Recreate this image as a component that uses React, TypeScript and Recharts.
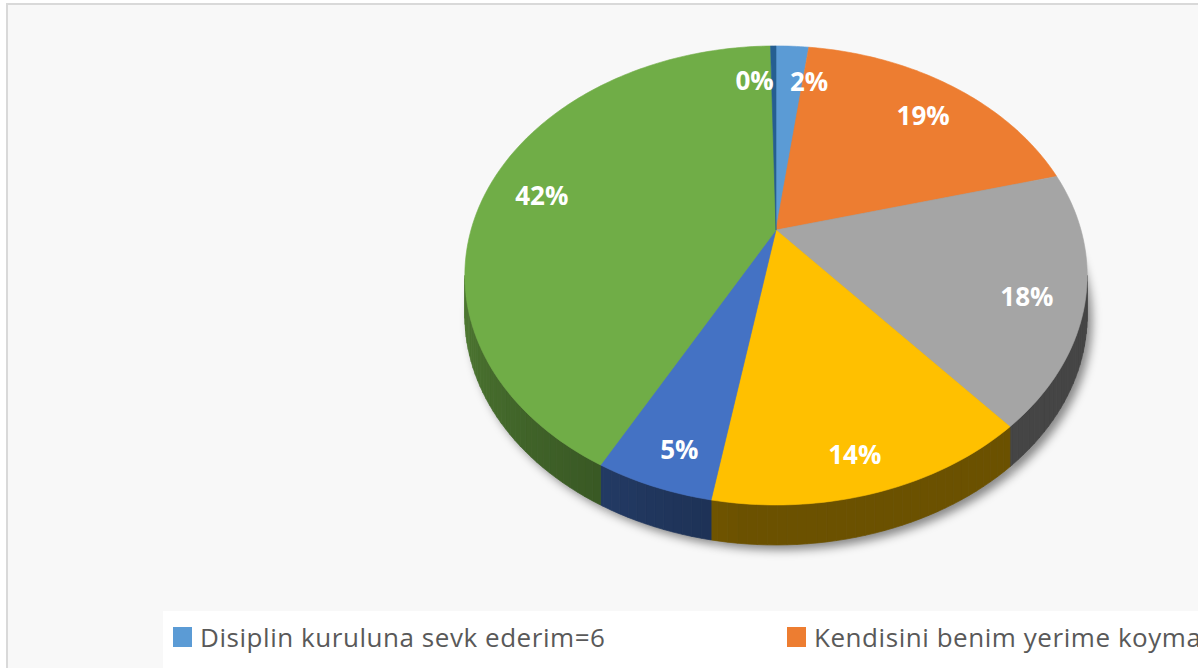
import React from 'react';
import { PieChart, Pie, Cell, Legend } from 'recharts';

const categories = [
  'Disiplin kuruluna sevk ederim=6',
  'Kendisini benim yerime koymasını isterim',
  'Seçenek 3',
  'Seçenek 4',
  'Seçenek 5',
  'Seçenek 6',
  'Seçenek 7',
];
const counts = [6, 55, 52, 41, 15, 122, 1];
const colors = ['#5B9BD5', '#ED7D31', '#A5A5A5', '#FFC000', '#4472C4', '#70AD47', '#255E91'];

const data = categories.map((name, i) => ({ name, value: counts[i] }));

// perspective parameters
const K = 0.198; // perspective strength
const BR = 0.723; // vertical/horizontal ratio
const T = 40; // thickness in px
const FRONT_HI = -11.4;
const FRONT_LO = -168.6;

function proj(cx: number, cy: number, R: number, aDeg: number, f: number): [number, number] {
  const a = (aDeg * Math.PI) / 180;
  const X = f * Math.cos(a);
  const Z = f * Math.sin(a);
  const d = 1 + K * Z;
  return [cx + (R * X) / d, cy - (R * BR * Z) / d];
}

function arcPoints(cx: number, cy: number, R: number, a1: number, a2: number, dy = 0): [number, number][] {
  const pts: [number, number][] = [];
  const n = Math.max(2, Math.ceil(Math.abs(a1 - a2) / 1));
  for (let i = 0; i <= n; i++) {
    const a = a1 + ((a2 - a1) * i) / n;
    const p = proj(cx, cy, R, a, 1);
    pts.push([p[0], p[1] + dy]);
  }
  return pts;
}

function darken(hex: string, f: number) {
  const n = parseInt(hex.slice(1), 16);
  const r = Math.round(((n >> 16) & 255) * f);
  const g = Math.round(((n >> 8) & 255) * f);
  const b = Math.round((n & 255) * f);
  return `rgb(${r},${g},${b})`;
}

const ShadowShape = (p: any) => {
  const { cx, cy, outerRadius, startAngle, endAngle } = p;
  const pts = arcPoints(cx, cy, outerRadius, startAngle, endAngle, T + 5);
  const d = `M${cx + 5},${cy + T + 5} L` + pts.map((q) => `${q[0] + 5},${q[1]}`).join(' L') + ' Z';
  return (
    <g>
      <defs>
        <filter id="pieShadowBlur" x="-20%" y="-20%" width="140%" height="140%">
          <feGaussianBlur stdDeviation="5" />
        </filter>
      </defs>
      <path d={d} fill="#000" fillOpacity={0.45} filter="url(#pieShadowBlur)" />
    </g>
  );
};

const WallShape = (p: any) => {
  const { cx, cy, outerRadius, startAngle, endAngle, fill } = p;
  const hi = Math.min(Math.max(startAngle, endAngle), FRONT_HI);
  const lo = Math.max(Math.min(startAngle, endAngle), FRONT_LO);
  if (hi <= lo) return <g />;
  const quads: React.ReactNode[] = [];
  const step = 1.5;
  let k = 0;
  for (let a = hi; a > lo; a -= step) {
    const b = Math.max(a - step, lo);
    const p1 = proj(cx, cy, outerRadius, a, 1);
    const p2 = proj(cx, cy, outerRadius, b, 1);
    const theta = 90 - (a + b) / 2;
    const factor = theta < 185 ? 0.42 : 0.42 + ((theta - 185) / 73) * 0.28;
    const c = darken(fill, factor);
    const d = `M${p1[0]},${p1[1]} L${p2[0]},${p2[1]} L${p2[0]},${p2[1] + T} L${p1[0]},${p1[1] + T} Z`;
    quads.push(<path key={k++} d={d} fill={c} stroke={c} strokeWidth={0.7} />);
  }
  return <g>{quads}</g>;
};

const TopShape = (p: any) => {
  const { cx, cy, outerRadius, startAngle, endAngle, fill } = p;
  const pts = arcPoints(cx, cy, outerRadius, startAngle, endAngle);
  const d = `M${cx},${cy} L` + pts.map((q) => `${q[0]},${q[1]}`).join(' L') + ' Z';
  return <path d={d} fill={fill} stroke={fill} strokeWidth={0.6} />;
};

const renderLabel = (p: any) => {
  const { cx, cy, outerRadius, midAngle, percent } = p;
  const f = 0.82;
  const a = (midAngle * Math.PI) / 180;
  const Z = Math.sin(a);
  const X = Math.cos(a);
  const pt = proj(cx, cy, outerRadius, midAngle, f);
  const y = pt[1] + 6 + 12 * Math.max(0, -Z);
  let anchor: 'middle' | 'start' | 'end' = 'middle';
  if (percent < 0.03) anchor = X < 0 ? 'end' : 'start';
  return (
    <text
      x={pt[0]}
      y={y}
      fill="#fff"
      textAnchor={anchor}
      dominantBaseline="central"
      style={{ fontFamily: '"Open Sans", sans-serif', fontWeight: 700, fontSize: 26 }}
    >
      {`${Math.round(percent * 100)}%`}
    </text>
  );
};

const LegendContent = () => (
  <div
    style={{
      position: 'absolute',
      left: 163,
      top: 611,
      width: 1200,
      height: 200,
      background: '#ffffff',
    }}
  >
    {categories.map((c, i) => {
      const col = i % 2;
      const row = Math.floor(i / 2);
      return (
        <div
          key={c}
          style={{
            position: 'absolute',
            left: 10 + col * 614,
            top: 10 + row * 70,
            display: 'flex',
            alignItems: 'center',
            whiteSpace: 'nowrap',
          }}
        >
          <span style={{ display: 'inline-block', width: 19, height: 20, background: colors[i], marginRight: 8 }} />
          <span
            style={{
              fontFamily: '"Open Sans", sans-serif',
              fontSize: 26,
              letterSpacing: 0.55,
              color: '#595959',
              lineHeight: '32px',
            }}
          >
            {c}
          </span>
        </div>
      );
    })}
  </div>
);

export default function App() {
  const pieCommon = {
    data,
    dataKey: 'value',
    nameKey: 'name',
    cx: 776,
    cy: 230,
    outerRadius: 305,
    startAngle: 90,
    endAngle: -270,
    isAnimationActive: false,
    stroke: 'none',
  } as const;
  return (
    <div style={{ position: 'absolute', left: 0, top: 0, width: 1198, height: 668, overflow: 'hidden', background: '#fff' }}>
      <style>{`body{margin:0}`}</style>
      <div
        style={{
          position: 'absolute',
          left: 6,
          top: 3,
          width: 1300,
          height: 800,
          background: '#f8f8f8',
          borderLeft: '2px solid #d9d9d9',
          borderTop: '2px solid #d9d9d9',
        }}
      />
      <div style={{ position: 'absolute', left: 0, top: 0 }}>
        <PieChart width={1198} height={668} margin={{ top: 0, left: 0, right: 0, bottom: 0 }}>
          <Pie {...pieCommon} shape={ShadowShape}>
            {data.map((d, i) => (
              <Cell key={d.name} fill={colors[i]} />
            ))}
          </Pie>
          <Pie {...pieCommon} shape={WallShape}>
            {data.map((d, i) => (
              <Cell key={d.name} fill={colors[i]} />
            ))}
          </Pie>
          <Pie {...pieCommon} shape={TopShape} label={renderLabel} labelLine={false}>
            {data.map((d, i) => (
              <Cell key={d.name} fill={colors[i]} />
            ))}
          </Pie>
          <Legend content={() => <LegendContent />} wrapperStyle={{ position: 'absolute', left: 0, top: 0, width: 0, height: 0 }} />
        </PieChart>
      </div>
    </div>
  );
}
